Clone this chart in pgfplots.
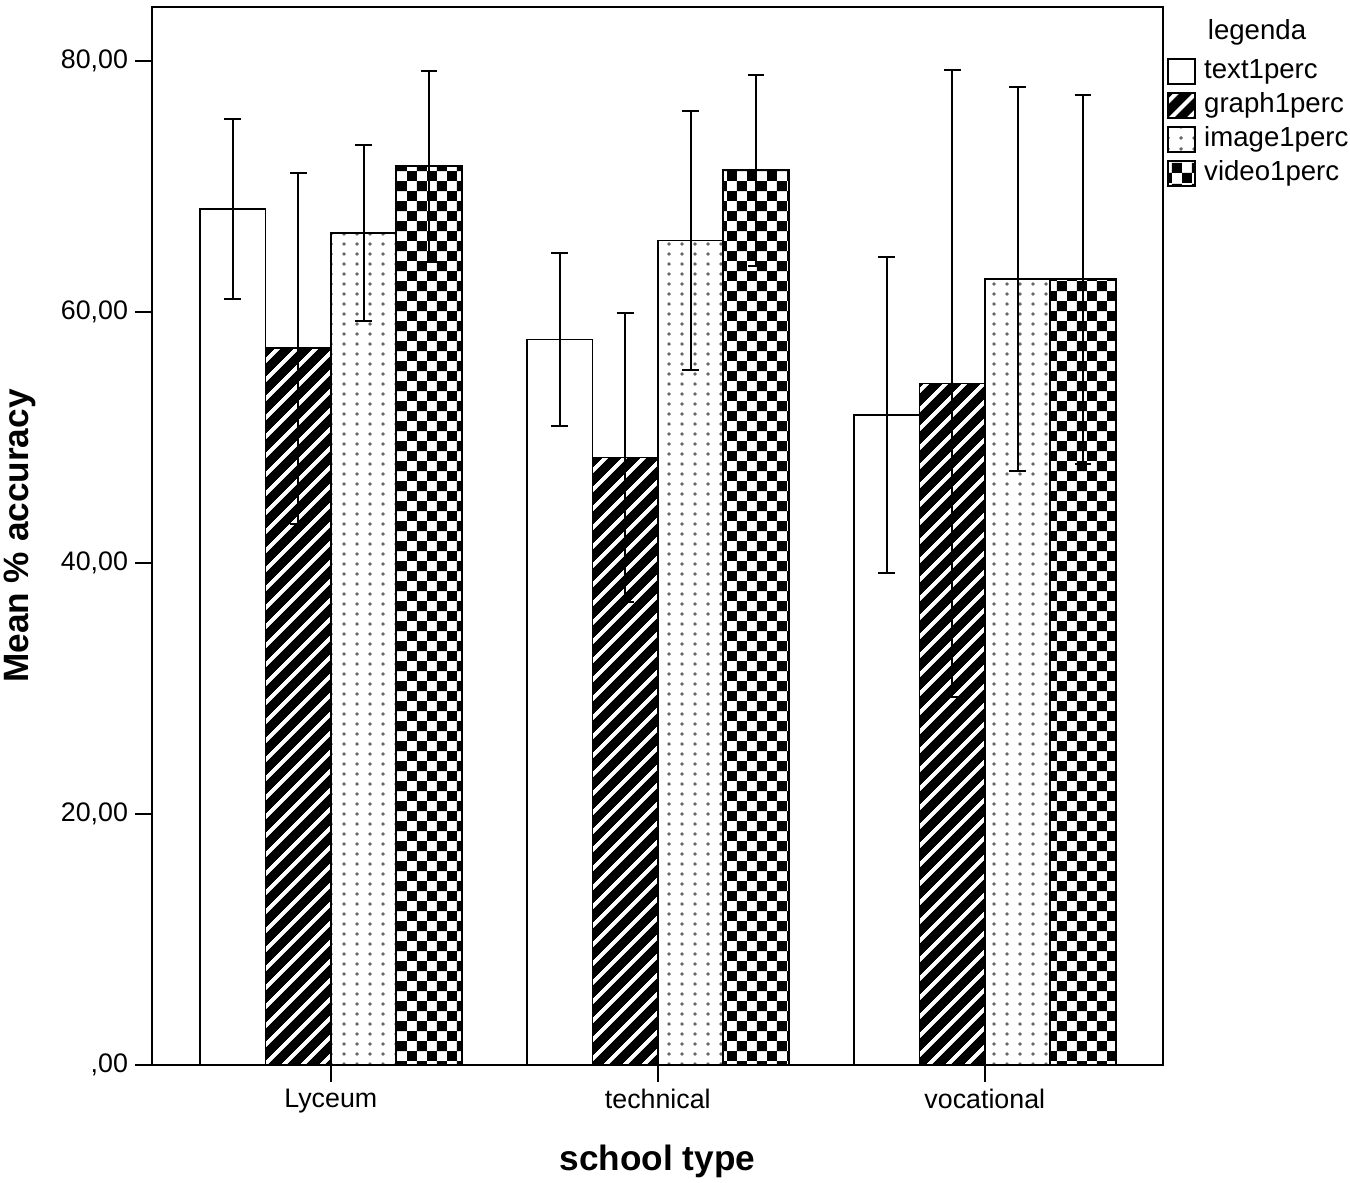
\documentclass[border=0pt]{standalone}
\usepackage{fontspec}
\setmainfont{Liberation Sans}
\usepackage{pgfplots}
\pgfplotsset{compat=1.18}
\usetikzlibrary{patterns.meta}

\pgfdeclarepattern{
  name=spssstripes, type=uncolored,
  bottom left={\pgfpoint{0pt}{0pt}},
  top right={\pgfpoint{7.1pt}{7.1pt}},
  tile size={\pgfpoint{7.1pt}{7.1pt}},
  tile transformation={\pgftransformrotate{45}},
  code={\pgfpathrectangle{\pgfpoint{-0.5pt}{0pt}}{\pgfpoint{8.1pt}{5.1pt}}\pgfusepath{fill}}
}
\pgfdeclarepattern{
  name=spssdots, type=uncolored,
  bottom left={\pgfpoint{0pt}{0pt}},
  top right={\pgfpoint{6.25pt}{5.2pt}},
  tile size={\pgfpoint{6.25pt}{5.2pt}},
  code={\pgfpathcircle{\pgfpoint{3.12pt}{2.6pt}}{1pt}\pgfusepath{fill}}
}
\pgfdeclarepattern{
  name=spsschecker, type=uncolored,
  bottom left={\pgfpoint{0pt}{0pt}},
  top right={\pgfpoint{10.2pt}{10.2pt}},
  tile size={\pgfpoint{10.2pt}{10.2pt}},
  code={\pgfpathrectangle{\pgfpoint{0pt}{0pt}}{\pgfpoint{5.1pt}{5.1pt}}\pgfpathrectangle{\pgfpoint{5.1pt}{5.1pt}}{\pgfpoint{5.1pt}{5.1pt}}\pgfusepath{fill}}
}

\pgfplotsset{
  myerr/.style={error bars/.cd, y dir=both, y explicit,
    error bar style={line width=1pt, black},
    error mark options={rotate=90, line width=1pt, mark size=4.2pt, black}},
}

\begin{document}
\begin{tikzpicture}
\begin{axis}[
  scale only axis, width=505.5pt, height=529pt,
  ybar=0pt, bar width=0.2,
  xmin=-0.547, xmax=2.545, ymin=0, ymax=84.3,
  xtick={0,1,2}, xticklabels={Lyceum,technical,vocational},
  ytick={0,20,40,60,80}, yticklabels={{,00},{20,00},{40,00},{60,00},{80,00}},
  tick align=outside, major tick length=8.5pt, xtick pos=bottom, ytick pos=left,
  axis line style={line width=1pt}, tick style={line width=1pt, black},
  /pgf/number format/assume math mode=true,
  font=\fontsize{13.4}{16}\selectfont,
  xlabel={school type}, ylabel={Mean \% accuracy},
  every axis y label/.style={at={([xshift=-66pt]axis description cs:0,0.5)}, rotate=90, anchor=center, font=\bfseries\fontsize{17.6}{20}\selectfont},
  every axis x label/.style={at={([yshift=-52.5pt]axis description cs:0.5,0)}, anchor=base, font=\bfseries\fontsize{17.6}{20}\selectfont},
  legend image code/.code={\draw[#1] (0pt,-6.25pt) rectangle (13.5pt,6.25pt);},
  legend style={at={(axis description cs:1,1)}, anchor=north west, xshift=2pt, yshift=-25.5pt,
    draw=none, fill=none, inner sep=0pt, row sep=3.5pt, font=\fontsize{13.8}{16}\selectfont,
    nodes={inner sep=0pt, text height=10pt, text depth=3pt, anchor=west},
    /tikz/every odd column/.style={column sep=4pt}},
  legend cell align=left,
]
\addplot[draw=black, line width=0.9pt, fill=white, myerr] coordinates {(0,68.2) +- (0,7.2) (1,57.8) +- (0,6.9) (2,51.8) +- (0,12.6)};
\addplot[draw=black, line width=0.9pt, pattern=spssstripes, pattern color=black, myerr] coordinates {(0,57.1) +- (0,14.0) (1,48.4) +- (0,11.5) (2,54.3) +- (0,25.0)};
\addplot[draw=black, line width=0.9pt, pattern=spssdots, pattern color=black!60, myerr] coordinates {(0,66.3) +- (0,7.0) (1,65.7) +- (0,10.3) (2,62.6) +- (0,15.3)};
\addplot[draw=black, line width=0.9pt, pattern=spsschecker, pattern color=black, myerr] coordinates {(0,71.6) +- (0,7.6) (1,71.3) +- (0,7.6) (2,62.6) +- (0,14.7)};
\legend{text1perc,graph1perc,image1perc,video1perc}
\coordinate (SW) at (rel axis cs:0,0);
\coordinate (NE) at (rel axis cs:1,1);
\end{axis}
\node[anchor=base, font=\fontsize{13.8}{16}\selectfont] at ([shift={(47pt,-16.5pt)}]NE) {legenda};
\pgfresetboundingbox
\path[use as bounding box] ([shift={(-76pt,-59pt)}]SW) rectangle ([shift={(93.5pt,3.5pt)}]NE);
\end{tikzpicture}
\end{document}
